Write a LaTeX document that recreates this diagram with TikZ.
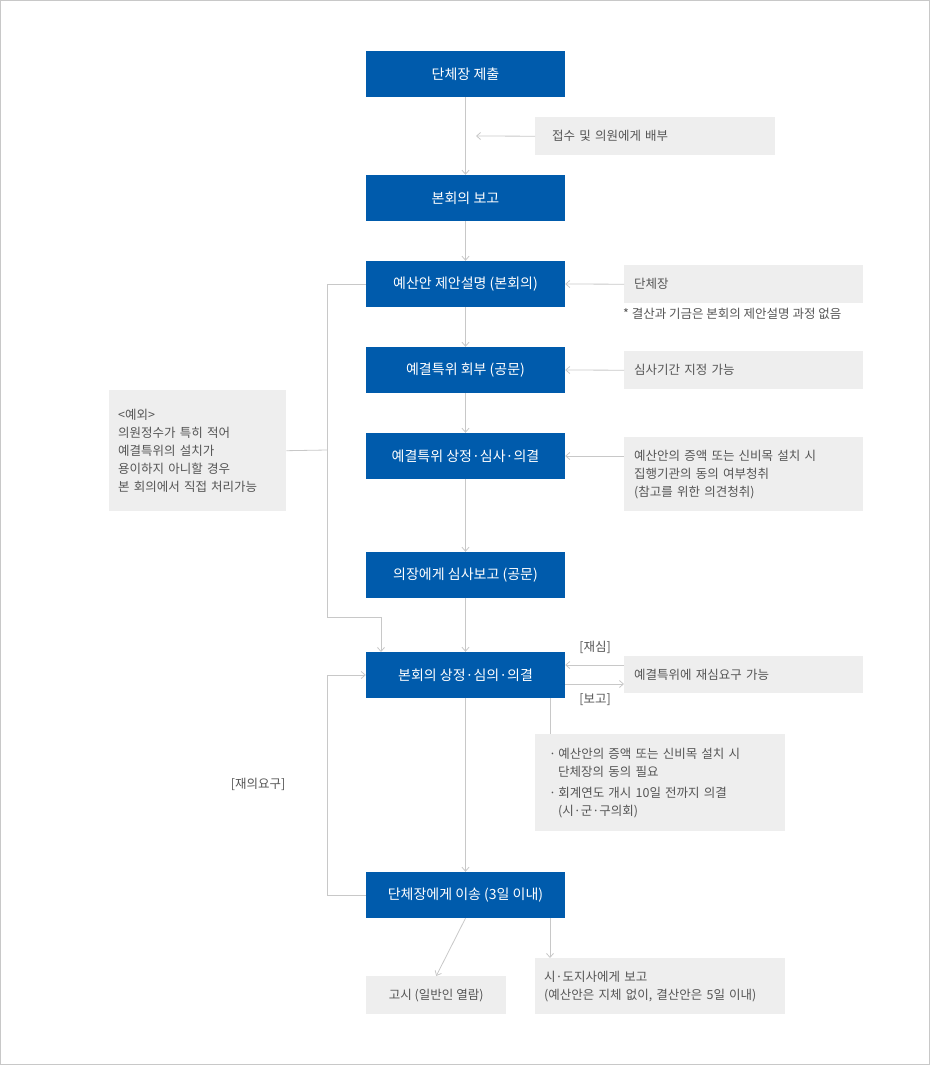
\documentclass[tikz,border=0pt]{standalone}
\usepackage{fontspec}
\setmainfont{Noto Sans CJK KR}
\usetikzlibrary{arrows.meta}
\definecolor{bl}{HTML}{005BAC}
\definecolor{gb}{HTML}{EEEEEE}
\definecolor{tx}{HTML}{555555}
\definecolor{ln}{HTML}{C8C8C8}
\begin{document}
\begin{tikzpicture}[x=1pt,y=-1pt,
 bbox/.style={fill=bl,text=white,minimum width=199pt,minimum height=46pt,inner sep=0pt,font=\fontsize{14}{16}\selectfont},
 gbox/.style={fill=gb,text=tx,inner sep=0pt,font=\fontsize{12.5}{18}\selectfont},
 con/.style={draw=ln,line width=0.8pt},
 arr/.style={con,-{Straight Barb[length=4pt,width=7pt]}},
 lab/.style={text=tx,font=\fontsize{12.5}{16}\selectfont,inner sep=0pt}]
\useasboundingbox (0,0) rectangle (930,1065);
\draw[ln,line width=0.8pt] (0.5,0.5) rectangle (929.5,1064.5);
% blue boxes
\node[bbox] (b1) at (465.5,74) {단체장 제출};
\node[bbox] (b2) at (465.5,198) {본회의 보고};
\node[bbox] (b3) at (465.5,284) {예산안 제안설명 (본회의)};
\node[bbox] (b4) at (465.5,370) {예결특위 회부 (공문)};
\node[bbox] (b5) at (465.5,456) {예결특위 상정·심사·의결};
\node[bbox] (b6) at (465.5,575) {의장에게 심사보고 (공문)};
\node[bbox] (b7) at (465.5,675) {본회의 상정·심의·의결};
\node[bbox] (b8) at (465.5,895) {단체장에게 이송 (3일 이내)};
% gray boxes
\node[gbox,minimum width=240pt,minimum height=38pt,anchor=north west,text width=206pt,align=left] (g1) at (535,117) {\hspace*{0pt}접수 및 의원에게 배부};
\node[gbox,minimum width=239pt,minimum height=38pt,anchor=north west,text width=219pt,align=left] (g2) at (624,265) {단체장};
\node[lab,anchor=west] (n2) at (623,314) {* 결산과 기금은 본회의 제안설명 과정 없음};
\node[gbox,minimum width=239pt,minimum height=38pt,anchor=north west,text width=219pt,align=left] (g3) at (624,351) {심사기간 지정 가능};
\node[gbox,minimum width=239pt,minimum height=74pt,anchor=north west,text width=219pt,align=left] (g4) at (624,437) {예산안의 증액 또는 신비목 설치 시\\집행기관의 동의 여부청취\\(참고를 위한 의견청취)};
\node[gbox,minimum width=239pt,minimum height=37pt,anchor=north west,text width=219pt,align=left] (g5) at (624,656) {예결특위에 재심요구 가능};
\node[gbox,minimum width=250pt,minimum height=97pt,anchor=north west,text width=222pt,align=left] (g6) at (535,734) {·\,예산안의 증액 또는 신비목 설치 시\\\hspace*{9pt}단체장의 동의 필요\\[3pt]·\,회계연도 개시 10일 전까지 의결\\\hspace*{9pt}(시·군·구의회)};
\node[gbox,minimum width=140pt,minimum height=38pt,anchor=north west] (g7) at (366,976) {고시 (일반인 열람)};
\node[gbox,minimum width=250pt,minimum height=56pt,anchor=north west,text width=232pt,align=left] (g8) at (535,958) {시·도지사에게 보고\\(예산안은 지체 없이, 결산안은 5일 이내)};
\node[gbox,minimum width=177pt,minimum height=121pt,anchor=north west,text width=159pt,align=left] (g9) at (109,390) {\textless 예외\textgreater\\의원정수가 특히 적어\\예결특위의 설치가\\용이하지 아니할 경우\\본 회의에서 직접 처리가능};
% vertical flow
\draw[arr] (b1) -- (b2);
\draw[arr] (b2) -- (b3);
\draw[arr] (b3) -- (b4);
\draw[arr] (b4) -- (b5);
\draw[arr] (b5) -- (b6);
\draw[arr] (b6) -- (b7);
\draw[arr] (b7) -- (b8);
\draw[arr] (b8.south) -- (g7.north);
\coordinate (c1) at (476,136);
\draw[arr] (g1.west) -- (c1);
\draw[arr] (g2.west) -- (b3.east);
\draw[arr] (g3.west) -- (b4.east);
\draw[arr] (g4.west |- b5) -- (b5.east);
\draw[arr] (g5.west |- 0,665) -- (b7.east |- 0,665);
\draw[arr] (b7.east |- 0,684) -- (g5.west |- 0,684);
\node[lab] (l1) at (595,647) {[재심]};
\node[lab] (l2) at (595,700) {[보고]};
\draw[con] (550,698) -- (g6.north -| 550,0);
\draw[arr] (550,918) -- (g8.north -| 550,0);
% left exception
\draw[con] (b3.west) -- (327,284) -- (327,617) -- (381,617);
\draw[arr] (381,617) -- (381,652);
\draw[con] (g9.east) -- (327,450);
\draw[con] (b8.west) -- (327,895) -- (327,675);
\draw[arr] (327,675) -- (b7.west);
\node[lab] (l3) at (258,784) {[재의요구]};
\end{tikzpicture}
\end{document}
